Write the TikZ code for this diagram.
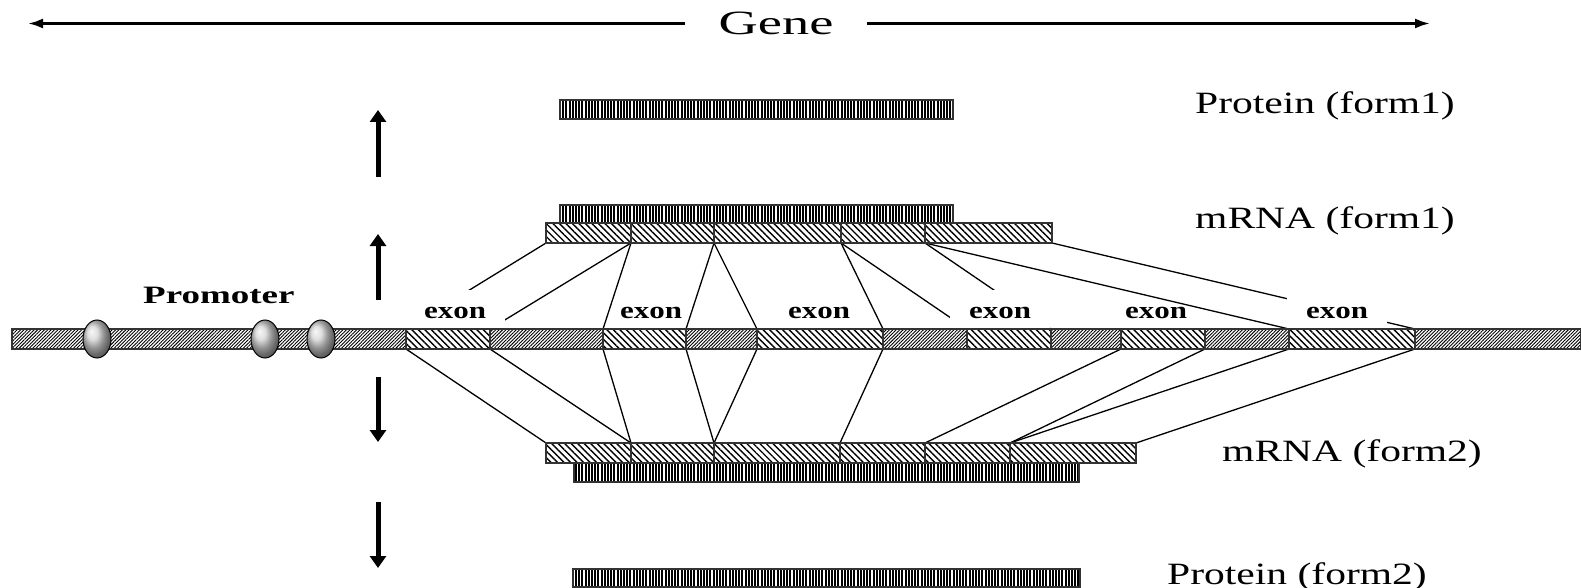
\documentclass[tikz,border=0pt]{standalone}
\usepackage{fontspec}
\setmainfont{Liberation Serif}
\usetikzlibrary{arrows.meta,patterns.meta,shapes.geometric}
\pgfdeclarelayer{bg}
\pgfsetlayers{bg,main}
\begin{document}
\begin{tikzpicture}[x=1pt,y=-1pt,
  bar/.style={draw=black!80, line width=1.2pt, inner sep=0pt, outer sep=0pt,
    minimum height=20pt, anchor=north west, preaction={fill=white}},
  intron/.style={bar, pattern={Lines[angle=45,distance=2.4pt,line width=0.9pt]}},
  exonbar/.style={bar, pattern={Lines[angle=-45,distance=4.6pt,line width=1.4pt]}},
  capbar/.style={bar, pattern={Lines[angle=90,distance=3.2pt,line width=2pt]}},
  link/.style={line width=1.3pt},
  genearrow/.style={line width=2.6pt, -{Latex[length=15pt,width=10pt]}},
  bigarrow/.style={line width=5pt, -{Triangle[length=12pt,width=16pt]}},
  promo/.style={ellipse, draw=black, line width=1pt, minimum width=28pt,
    minimum height=38pt, inner sep=0pt, shading=ball, ball color=gray!35},
  formlbl/.style={inner sep=0pt, anchor=base west, font=\fontsize{31}{33}\selectfont},
  exonlbl/.style={inner sep=0pt, minimum width=100pt, minimum height=38pt,
    text height=18pt, text depth=0pt, font=\bfseries\fontsize{24}{26}\selectfont},
  mask/.style={fill=white}
]
\useasboundingbox (0,0) rectangle (1581,588);

% gene extent arrow
\node[inner sep=0pt, minimum width=182pt, font=\fontsize{34}{36}\selectfont]
  (gene) at (776,23.5) {\scalebox{1.6}[1]{Gene}};
\coordinate (gl) at (28,23.5);
\coordinate (gr) at (1430,23.5);
\draw[genearrow] (gene.west) -- (gl);
\draw[genearrow] (gene.east) -- (gr);

% genomic DNA with promoter elements and exons
\node[intron, minimum width=1569pt] (dna) at (12,329) {};
\node[exonbar, minimum width=84pt]  (e1) at (406,329) {};
\node[exonbar, minimum width=83pt]  (e2) at (603,329) {};
\node[exonbar, minimum width=126pt] (e3) at (757,329) {};
\node[exonbar, minimum width=84pt]  (e4) at (967,329) {};
\node[exonbar, minimum width=84pt]  (e5) at (1121,329) {};
\node[exonbar, minimum width=126pt] (e6) at (1289,329) {};
\node[promo] (p1) at (97,339) {};
\node[promo] (p2) at (265,339) {};
\node[promo] (p3) at (321,339) {};
\node[inner sep=0pt, anchor=base west, font=\bfseries\fontsize{25}{27}\selectfont]
  (prom) at (143,303) {\scalebox{1.48}[1]{Promoter}};

% mRNA form 1 and its protein
\node[capbar, minimum width=393pt, minimum height=19pt] (prot1) at (560,100) {};
\node[capbar, minimum width=393pt, minimum height=18pt] (cap1) at (560,205) {};
\node[exonbar, minimum width=85pt]  (m1a) at (546,223) {};
\node[exonbar, minimum width=83pt]  (m1b) at (631,223) {};
\node[exonbar, minimum width=127pt] (m1c) at (714,223) {};
\node[exonbar, minimum width=84pt]  (m1d) at (841,223) {};
\node[exonbar, minimum width=127pt] (m1e) at (925,223) {};

% mRNA form 2 and its protein
\node[exonbar, minimum width=85pt]  (m2a) at (546,443) {};
\node[exonbar, minimum width=83pt]  (m2b) at (631,443) {};
\node[exonbar, minimum width=126pt] (m2c) at (714,443) {};
\node[exonbar, minimum width=85pt]  (m2d) at (840,443) {};
\node[exonbar, minimum width=85pt]  (m2e) at (925,443) {};
\node[exonbar, minimum width=126pt] (m2f) at (1010,443) {};
\node[capbar, minimum width=505pt, minimum height=19pt] (cap2) at (574,463) {};
\node[capbar, minimum width=507pt, minimum height=18pt] (prot2) at (573,569) {};

% form labels
\node[formlbl] (lp1) at (1195,114) {\scalebox{1.34}[1]{Protein (form1)}};
\node[formlbl] (lm1) at (1195,228) {\scalebox{1.34}[1]{mRNA (form1)}};
\node[formlbl] (lm2) at (1222,461) {\scalebox{1.34}[1]{mRNA (form2)}};
\node[formlbl] (lp2) at (1167,584) {\scalebox{1.34}[1]{Protein (form2)}};

% flow arrows
\coordinate (a1s) at (378,177); \coordinate (a1t) at (378,110);
\coordinate (a2s) at (378,300); \coordinate (a2t) at (378,234);
\coordinate (a3s) at (378,377); \coordinate (a3t) at (378,442);
\coordinate (a4s) at (378,502); \coordinate (a4t) at (378,568);
\draw[bigarrow] (a1s) -- (a1t);
\draw[bigarrow] (a2s) -- (a2t);
\draw[bigarrow] (a3s) -- (a3t);
\draw[bigarrow] (a4s) -- (a4t);

\begin{pgfonlayer}{bg}
  % splicing into form 1
  \draw[link] (m1a.south west) -- (e1.north west);
  \draw[link] (m1a.south east) -- (e1.north east);
  \draw[link] (m1b.south west) -- (e2.north west);
  \draw[link] (m1b.south east) -- (e2.north east);
  \draw[link] (m1c.south west) -- (e3.north west);
  \draw[link] (m1c.south east) -- (e3.north east);
  \draw[link] (m1d.south west) -- (e4.north west);
  \draw[link] (m1d.south east) -- (e4.north east);
  \draw[link] (m1e.south west) -- (e6.north west);
  \draw[link] (m1e.south east) -- (e6.north east);
  % splicing into form 2
  \draw[link] (e1.south west) -- (m2a.north west);
  \draw[link] (e1.south east) -- (m2a.north east);
  \draw[link] (e2.south west) -- (m2b.north west);
  \draw[link] (e2.south east) -- (m2b.north east);
  \draw[link] (e3.south west) -- (m2c.north west);
  \draw[link] (e3.south east) -- (m2c.north east);
  \draw[link] (e5.south west) -- (m2d.north east);
  \draw[link] (e5.south east) -- (m2e.north east);
  \draw[link] (e6.south west) -- (m2f.north west);
  \draw[link] (e6.south east) -- (m2f.north east);
  % exon labels
  \node[exonlbl, mask] (x1) at (455,309)  {\scalebox{1.29}[1]{exon}};
  \node[exonlbl]       (x2) at (651,309)  {\scalebox{1.29}[1]{exon}};
  \node[exonlbl]       (x3) at (819,309)  {\scalebox{1.29}[1]{exon}};
  \node[exonlbl, mask] (x4) at (1000,309) {\scalebox{1.29}[1]{exon}};
  \node[exonlbl]       (x5) at (1156,309) {\scalebox{1.29}[1]{exon}};
  \node[exonlbl, mask] (x6) at (1337,309) {\scalebox{1.29}[1]{exon}};
\end{pgfonlayer}
\end{tikzpicture}
\end{document}
